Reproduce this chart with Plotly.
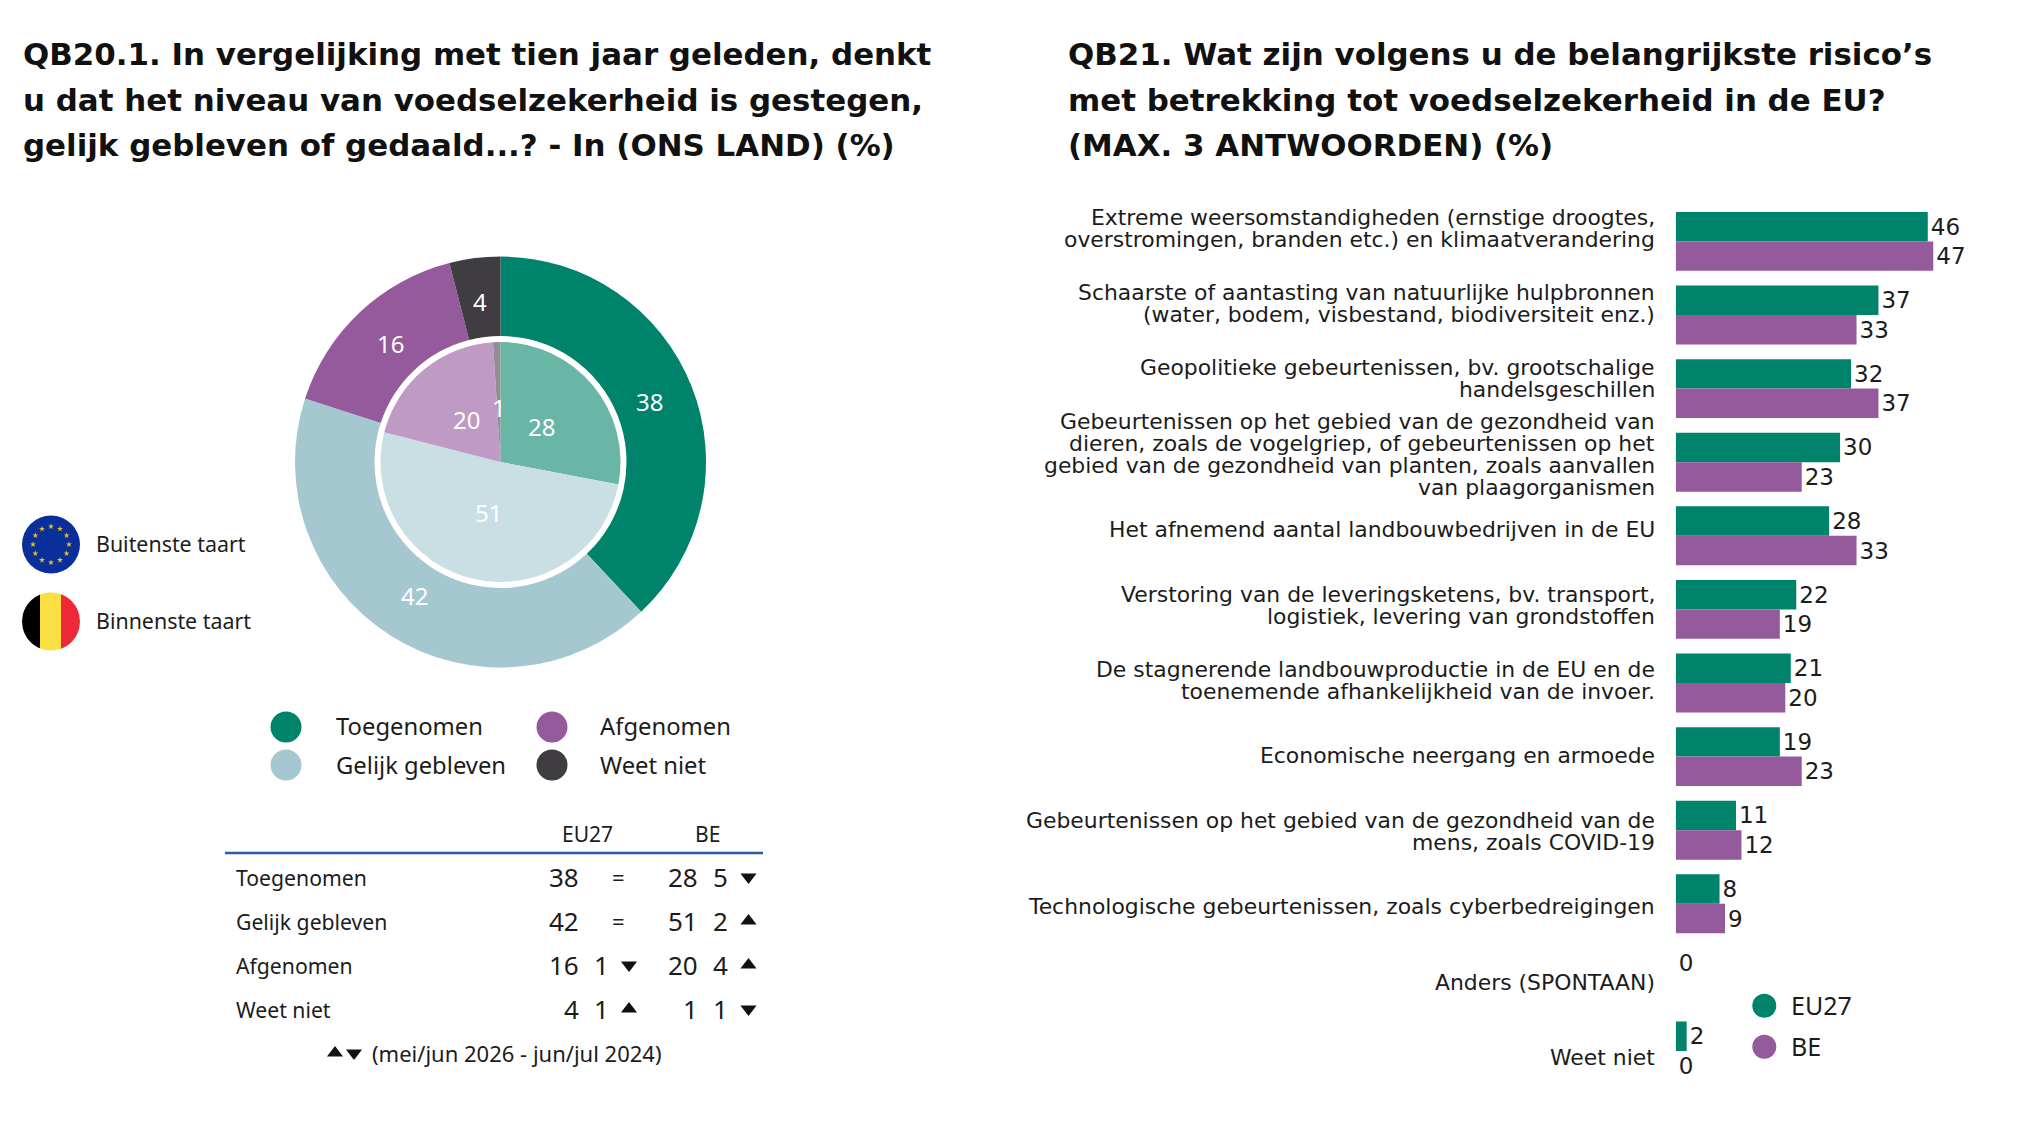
import math
import plotly.graph_objects as go

W, H = 2030, 1121
FONT = "Noto Sans"
WIDE = "DejaVu Sans"
INK = "#1c1c1c"
TEAL, PALE, PURPLE, DARK = "#00836B", "#A5C8D0", "#945A9B", "#3F3D42"
IN_COLORS = ["#69B5A6", "#C9DFE4", "#BF9AC5", "#8F8F93"]

# ---- data ----
pie_labels = ["Toegenomen", "Gelijk gebleven", "Afgenomen", "Weet niet"]
eu_pie = [38, 42, 16, 4]
be_pie = [28, 51, 20, 1]
eu_delta = ["=", "=", "1", "1"]
eu_dir = [None, None, "down", "up"]
be_delta = ["5", "2", "4", "1"]
be_dir = ["down", "up", "up", "down"]

title_left = ["QB20.1. In vergelijking met tien jaar geleden, denkt",
              "u dat het niveau van voedselzekerheid is gestegen,",
              "gelijk gebleven of gedaald...? - In (ONS LAND) (%)"]
title_right = ["QB21. Wat zijn volgens u de belangrijkste risico’s",
               "met betrekking tot voedselzekerheid in de EU?",
               "(MAX. 3 ANTWOORDEN) (%)"]
bar_labels = [
    ["Extreme weersomstandigheden (ernstige droogtes,", "overstromingen, branden etc.) en klimaatverandering"],
    ["Schaarste of aantasting van natuurlijke hulpbronnen", "(water, bodem, visbestand, biodiversiteit enz.)"],
    ["Geopolitieke gebeurtenissen, bv. grootschalige", "handelsgeschillen"],
    ["Gebeurtenissen op het gebied van de gezondheid van", "dieren, zoals de vogelgriep, of gebeurtenissen op het",
     "gebied van de gezondheid van planten, zoals aanvallen", "van plaagorganismen"],
    ["Het afnemend aantal landbouwbedrijven in de EU"],
    ["Verstoring van de leveringsketens, bv. transport,", "logistiek, levering van grondstoffen"],
    ["De stagnerende landbouwproductie in de EU en de", "toenemende afhankelijkheid van de invoer."],
    ["Economische neergang en armoede"],
    ["Gebeurtenissen op het gebied van de gezondheid van de", "mens, zoals COVID-19"],
    ["Technologische gebeurtenissen, zoals cyberbedreigingen"],
    ["Anders (SPONTAAN)"],
    ["Weet niet"],
]
bar_eu = [46, 37, 32, 30, 28, 22, 21, 19, 11, 8, 0, 2]
bar_be = [47, 33, 37, 23, 33, 19, 20, 23, 12, 9, None, 0]
cats = [" ".join(l) for l in bar_labels]

fig = go.Figure()
ann = []


def txt(x, y, s, size=22, anchor="left", color=INK, bold=False, family=FONT):
    ann.append(dict(x=x, y=y, xref="x2", yref="y2", text=f"<b>{s}</b>" if bold else s, showarrow=False,
                    xanchor=anchor, yanchor="middle", borderpad=0, borderwidth=0,
                    font=dict(family=family, size=size, color=color)))


# ---- donut ----
CX, CY, R_OUT, R_IN, R_HOLE = 500.5, 462, 205.5, 120, 126
fig.add_trace(go.Pie(values=eu_pie, labels=pie_labels, hole=R_HOLE / R_OUT, sort=False, direction="clockwise",
                     rotation=0, textinfo="none", hoverinfo="label+value", showlegend=False,
                     marker=dict(colors=[TEAL, PALE, PURPLE, DARK], line=dict(width=0)),
                     domain=dict(x=[(CX - R_OUT) / W, (CX + R_OUT) / W],
                                 y=[1 - (CY + R_OUT) / H, 1 - (CY - R_OUT) / H])))
fig.add_trace(go.Pie(values=be_pie, labels=pie_labels, sort=False, direction="clockwise",
                     rotation=0, textinfo="none", hoverinfo="label+value", showlegend=False,
                     marker=dict(colors=IN_COLORS, line=dict(width=0)),
                     domain=dict(x=[(CX - R_IN) / W, (CX + R_IN) / W],
                                 y=[1 - (CY + R_IN) / H, 1 - (CY - R_IN) / H])))


def ring_labels(vals, r):
    start = 0
    for v in vals:
        a = math.radians((start + v / 2) * 3.6)
        txt(CX + r * math.sin(a), CY - 1.5 - r * math.cos(a), str(v), 24, "center", "#ffffff")
        start += v


ring_labels(eu_pie, 160)
ring_labels(be_pie, 53)

# ---- bars ----
BAR_X0, PX_PER_UNIT, X_MAX = 1675.7, 5.48, 60
ROW_0, ROW_STEP = 241.4, 73.6
top = ROW_0 - ROW_STEP / 2
bot = ROW_0 + 11 * ROW_STEP + ROW_STEP / 2
for name, vals, col in (("EU27", bar_eu, TEAL), ("BE", bar_be, PURPLE)):
    fig.add_trace(go.Bar(y=cats, x=vals, orientation="h", name=name, marker=dict(color=col, line=dict(width=0)),
                         text=[("" if v is None else str(v)) for v in vals], textposition="outside",
                         textangle=0, cliponaxis=False, constraintext="none", showlegend=False,
                         textfont=dict(family=WIDE, size=23, color=INK), xaxis="x", yaxis="y"))

LABEL_0, LABEL_STEP, LINE_H, LABEL_X = 228, 75.4, 22, 1654.5
for i, lines in enumerate(bar_labels):
    yc = LABEL_0 + i * LABEL_STEP
    for j, s in enumerate(lines):
        txt(LABEL_X, yc + (j - (len(lines) - 1) / 2) * LINE_H, s, 21.9, "right", family=WIDE)

# ---- titles ----
for lines, x in ((title_left, 23), (title_right, 1068)):
    for j, s in enumerate(lines):
        txt(x, 54 + j * 45.5, s, 30.9, "left", "#111111", bold=True, family=WIDE)

# ---- overlay marks ----
circ_x, circ_y, circ_c = [], [], []
for (x, y, c) in ((286, 727, TEAL), (286, 765, PALE), (552, 727, PURPLE), (552, 765, DARK)):
    circ_x.append(x); circ_y.append(y); circ_c.append(c)
fig.add_trace(go.Scatter(x=circ_x, y=circ_y, mode="markers", xaxis="x2", yaxis="y2", showlegend=False,
                         hoverinfo="skip", marker=dict(size=31, color=circ_c, line=dict(width=0))))
fig.add_trace(go.Scatter(x=[1764.3, 1764.3], y=[1005.7, 1046.7], mode="markers", xaxis="x2", yaxis="y2",
                         showlegend=False, hoverinfo="skip", marker=dict(size=24, color=[TEAL, PURPLE], line=dict(width=0))))
txt(1790.7, 1005, "EU27", 25)
txt(1790.7, 1046, "BE", 25)

for (x, y, s) in ((335.5, 726, pie_labels[0]), (335.5, 765, pie_labels[1]), (600, 726, pie_labels[2]), (600, 765, pie_labels[3])):
    txt(x, y, s, 23.8)

# ---- flags ----
FX, FR = 51, 29
EU_Y, BE_Y = 544.5, 621.5
shapes = [dict(type="circle", xref="x2", yref="y2", x0=FX - FR, x1=FX + FR, y0=EU_Y - FR, y1=EU_Y + FR,
               fillcolor="#0B2F9A", line=dict(width=0), layer="below")]
sx = [FX + 18 * math.sin(math.radians(k * 30)) for k in range(12)]
sy = [EU_Y - 18 * math.cos(math.radians(k * 30)) for k in range(12)]
fig.add_trace(go.Scatter(x=sx, y=sy, mode="markers", xaxis="x2", yaxis="y2", showlegend=False, hoverinfo="skip",
                         marker=dict(symbol="star", size=4.5, color="#E8C020", line=dict(width=0))))


def chord_band(xa, xb, col):
    n = 24
    pts = []
    for k in range(n + 1):
        x = xa + (xb - xa) * k / n
        pts.append((x, BE_Y - math.sqrt(max(FR ** 2 - (x - FX) ** 2, 0))))
    for k in range(n, -1, -1):
        x = xa + (xb - xa) * k / n
        pts.append((x, BE_Y + math.sqrt(max(FR ** 2 - (x - FX) ** 2, 0))))
    path = "M" + " L".join(f"{a:.2f},{b:.2f}" for a, b in pts) + " Z"
    return dict(type="path", xref="x2", yref="y2", path=path, fillcolor=col, line=dict(width=0), layer="below")


shapes += [chord_band(FX - FR, 40, "#000000"), chord_band(40, 61, "#FAE042"), chord_band(61, FX + FR, "#ED2939")]
txt(96, 543, "Buitenste taart", 21.4)
txt(96, 620, "Binnenste taart", 21.4)

# ---- table ----
shapes.append(dict(type="line", xref="x2", yref="y2", x0=225, x1=763, y0=853, y1=853,
                   line=dict(color="#2A5CAA", width=2.5)))
txt(587, 834, "EU27", 21, "center")
txt(707, 834, "BE", 21, "center")
ROWS = [877, 921, 965, 1009]
tri_up_x, tri_up_y, tri_dn_x, tri_dn_y = [], [], [], []
for i, y in enumerate(ROWS):
    txt(236, y, pie_labels[i], 21.2)
    txt(578.5, y, str(eu_pie[i]), 26, "right")
    txt(698, y, str(be_pie[i]), 26, "right")
    if eu_dir[i] is None:
        txt(618, y, eu_delta[i], 22, "center")
    else:
        txt(601.5, y, eu_delta[i], 26, "center")
        (tri_up_x if eu_dir[i] == "up" else tri_dn_x).append(629)
        (tri_up_y if eu_dir[i] == "up" else tri_dn_y).append(y)
    txt(720.5, y, be_delta[i], 26, "center")
    (tri_up_x if be_dir[i] == "up" else tri_dn_x).append(748.5)
    (tri_up_y if be_dir[i] == "up" else tri_dn_y).append(y)
tri_up_x.append(335); tri_up_y.append(1053)
tri_dn_x.append(354); tri_dn_y.append(1053)
for xs, ys, sym in ((tri_up_x, tri_up_y, "triangle-up"), (tri_dn_x, tri_dn_y, "triangle-down")):
    fig.add_trace(go.Scatter(x=xs, y=ys, mode="markers", xaxis="x2", yaxis="y2", showlegend=False, hoverinfo="skip",
                             marker=dict(symbol=sym, size=14, color="#111111", line=dict(width=0))))
txt(371.5, 1053, "(mei/jun 2026 - jun/jul 2024)", 22)

fig.update_layout(
    width=W, height=H, autosize=False, margin=dict(l=0, r=0, t=0, b=0, pad=0),
    paper_bgcolor="#ffffff", plot_bgcolor="rgba(0,0,0,0)", barmode="group", bargap=0.2, bargroupgap=0,
    font=dict(family=FONT, color=INK), annotations=ann, shapes=shapes,
    xaxis=dict(domain=[BAR_X0 / W, (BAR_X0 + X_MAX * PX_PER_UNIT) / W], range=[0, X_MAX], visible=False,
               fixedrange=True, anchor="y"),
    yaxis=dict(domain=[1 - bot / H, 1 - top / H], autorange=False, range=[11.5, -0.5], visible=False,
               type="category", categoryorder="array", categoryarray=cats, fixedrange=True, anchor="x"),
    xaxis2=dict(domain=[0, 1], range=[0, W], visible=False, fixedrange=True, anchor="y2"),
    yaxis2=dict(domain=[0, 1], range=[H, 0], visible=False, fixedrange=True, anchor="x2"),
)

fig.write_html("out.html", config=dict(displayModeBar=False),
               post_script="document.body.style.margin='0';document.body.style.overflow='hidden';")
